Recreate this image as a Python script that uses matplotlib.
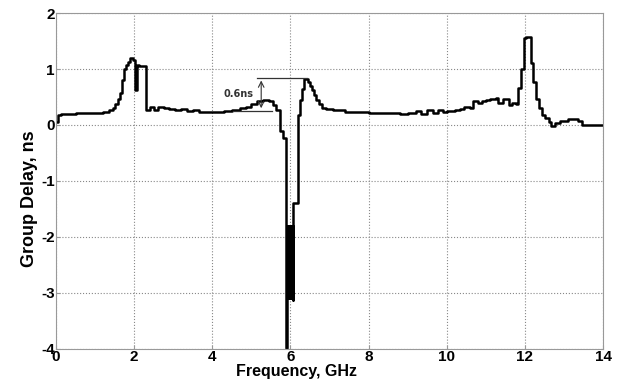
import matplotlib.pyplot as plt

# group delay curve (step plot, value holds until next freq)
freq = [0.00, 0.05, 0.12, 0.50, 0.90, 1.20, 1.35, 1.45, 1.52, 1.58, 1.63, 1.68,
        1.73, 1.78, 1.85, 1.90, 1.96, 2.02, 2.07, 2.12, 2.30, 2.40, 2.50, 2.60,
        2.75, 2.90, 3.05, 3.20, 3.35, 3.50, 3.65, 4.00, 4.30, 4.50, 4.70, 4.85,
        5.00, 5.15, 5.30, 5.45, 5.55, 5.63, 5.72, 5.80, 5.88,
        5.91, 5.92, 5.93, 5.94, 5.95, 5.96, 5.97, 5.98, 5.99, 6.00, 6.01, 6.02,
        6.03, 6.04, 6.05, 6.06,
        6.07, 6.20, 6.25, 6.30, 6.34, 6.45, 6.50, 6.55, 6.60, 6.66, 6.72, 6.80,
        6.90, 7.10, 7.40, 7.70, 8.00, 8.40, 8.80, 9.00, 9.20, 9.35, 9.50, 9.65,
        9.78, 9.90, 10.00, 10.20, 10.35, 10.45, 10.60, 10.68, 10.80, 10.90, 11.00,
        11.10, 11.25, 11.32, 11.45, 11.58, 11.68, 11.78, 11.83, 11.90, 11.97,
        12.03, 12.15, 12.20, 12.28, 12.36, 12.44, 12.52, 12.62, 12.68, 12.78,
        12.90, 13.10, 13.35, 13.46, 14.00]
delay = [0.05, 0.17, 0.20, 0.21, 0.22, 0.24, 0.27, 0.31, 0.38, 0.46, 0.58, 0.80,
         1.00, 1.07, 1.13, 1.20, 1.17, 0.62, 1.08, 1.05, 0.27, 0.33, 0.27, 0.33,
         0.30, 0.28, 0.26, 0.28, 0.25, 0.27, 0.23, 0.24, 0.25, 0.27, 0.30, 0.33,
         0.38, 0.42, 0.44, 0.42, 0.36, 0.27, -0.10, -0.23, -3.98,
         -1.80, -3.10, -1.80, -3.10, -1.80, -3.10, -1.80, -3.10, -1.80, -3.10,
         -1.80, -3.10, -1.80, -3.10, -1.80, -3.12,
         -1.40, 0.18, 0.45, 0.65, 0.82, 0.76, 0.70, 0.62, 0.54, 0.45, 0.37, 0.31,
         0.28, 0.26, 0.24, 0.23, 0.22, 0.21, 0.19, 0.21, 0.25, 0.19, 0.26, 0.21,
         0.27, 0.23, 0.25, 0.27, 0.28, 0.33, 0.30, 0.42, 0.40, 0.42, 0.44,
         0.47, 0.49, 0.40, 0.46, 0.36, 0.40, 0.38, 0.66, 1.00, 1.55,
         1.58, 1.10, 0.77, 0.47, 0.30, 0.18, 0.12, 0.05, -0.02, 0.04,
         0.07, 0.10, 0.08, 0.00, 0.00]

xticks = [0, 2, 4, 6, 8, 10, 12, 14]
yticks = [-4, -3, -2, -1, 0, 1, 2]

plt.rcParams['font.family'] = 'Liberation Sans'
plt.rcParams['axes.unicode_minus'] = False

fig = plt.figure(figsize=(6.23, 3.85), dpi=100)
ax = fig.add_axes([0.09, 0.094, 0.878, 0.872])

ax.step(freq, delay, where='post', color='black', lw=1.8)

# 0.6 ns annotation
ax.plot([4.53, 5.52], [0.25, 0.25], color='#333333', lw=0.9)
ax.plot([5.14, 6.42], [0.845, 0.845], color='#333333', lw=0.9)
ax.annotate('', xy=(5.25, 0.25), xytext=(5.25, 0.845),
            arrowprops=dict(arrowstyle='<->', color='#333333', lw=0.8))
ax.text(5.05, 0.55, '0.6ns', fontsize=7, fontweight='bold', color='#333333',
        ha='right', va='center', family='DejaVu Sans')

ax.set_xlim(0, 14)
ax.set_ylim(-4, 2)
ax.set_xticks(xticks)
ax.set_yticks(yticks)
ax.grid(True, linestyle=':', color='#888888', lw=0.8)
for s in ax.spines.values():
    s.set_color('#999999')
ax.tick_params(direction='in', length=3, color='#999999', labelsize=11, pad=1)
for lab in ax.get_xticklabels() + ax.get_yticklabels():
    lab.set_fontweight('bold')

ax.set_xlabel('Frequency, GHz', fontsize=11.5, fontweight='bold', labelpad=0)
ax.set_ylabel('Group Delay, ns', fontsize=13, fontweight='bold', labelpad=2)
ax.xaxis.label.set_x(0.439)
ax.yaxis.label.set_y(0.446)

fig.savefig('out.png', dpi=100)
